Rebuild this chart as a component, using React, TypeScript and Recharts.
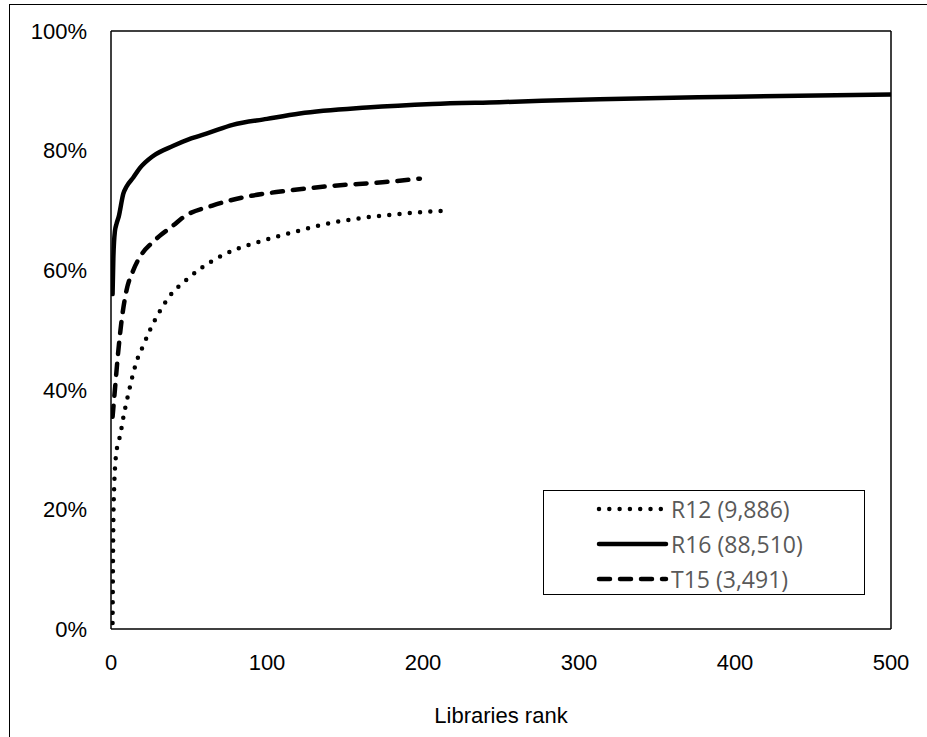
import React from 'react';
import { LineChart, Line, XAxis, YAxis, Legend, ReferenceLine } from 'recharts';

// Cumulative share of usage covered by the top-N libraries, per dataset
const r12Rank = [1, 1.5, 2, 3, 4, 6, 7, 8, 10, 12.6, 15, 17, 20, 25, 31, 38, 48, 57, 68, 80, 93, 106, 119, 132, 157, 185, 216];
const r12Share = [0.01, 0.18, 0.235, 0.285, 0.305, 0.325, 0.34, 0.355, 0.38, 0.41, 0.435, 0.452, 0.47, 0.5, 0.53, 0.558, 0.583, 0.602, 0.62, 0.635, 0.646, 0.656, 0.665, 0.674, 0.686, 0.694, 0.7];

const r16Rank = [1, 1.5, 2.5, 3.6, 5, 7.9, 10, 14.3, 18.6, 27, 40, 51, 63, 78, 100, 121, 164, 206, 249, 313, 400, 500];
const r16Share = [0.56, 0.62, 0.665, 0.678, 0.69, 0.728, 0.74, 0.755, 0.771, 0.791, 0.808, 0.82, 0.83, 0.843, 0.853, 0.862, 0.872, 0.878, 0.881, 0.886, 0.89, 0.894];

const t15Rank = [1, 2.5, 4.5, 7, 10, 14, 20, 26, 31, 40, 46, 65, 89, 110, 142, 174, 198];
const t15Share = [0.355, 0.4, 0.46, 0.52, 0.567, 0.598, 0.628, 0.645, 0.657, 0.675, 0.688, 0.708, 0.724, 0.732, 0.741, 0.747, 0.753];

const xTicks = [0, 100, 200, 300, 400, 500];
const yTicks = [0, 0.2, 0.4, 0.6, 0.8, 1];

const toPoints = (ranks: number[], shares: number[]) => ranks.map((x, i) => ({ x, y: shares[i] }));

const series = [
  { name: 'R12 (9,886)', data: toPoints(r12Rank, r12Share), dash: '0 10.3' },
  { name: 'R16 (88,510)', data: toPoints(r16Rank, r16Share), dash: undefined },
  { name: 'T15 (3,491)', data: toPoints(t15Rank, t15Share), dash: '11 10' },
];

const axisFont = { fontFamily: '"Liberation Sans", Arial, sans-serif', fontSize: 22, fill: '#000' };
const border = { stroke: '#000', strokeWidth: 1.5 };

// Boxed legend like the Excel original: line sample on the left, grey label on the right
const LegendBox = () => (
  <div style={{ width: 322, height: 105, border: '1.5px solid #000', background: '#fff', boxSizing: 'border-box', paddingTop: 0 }}>
    {series.map(s => (
      <div key={s.name} style={{ display: 'flex', alignItems: 'center', height: 35, marginLeft: 52 }}>
        <svg width={74} height={10}>
          <line x1={3} y1={5} x2={70} y2={5} stroke="#000" strokeWidth={4.5} strokeLinecap="round" strokeDasharray={s.dash} />
        </svg>
        <span style={{ fontFamily: '"Open Sans", sans-serif', fontSize: 23, color: '#595959', marginLeft: 1 }}>{s.name}</span>
      </div>
    ))}
  </div>
);

const App: React.FC = () => {
  return (
    <div style={{ position: 'absolute', left: 0, top: 0, width: 927, height: 737, overflow: 'hidden', background: '#fff' }}>
      <div style={{ position: 'absolute', left: 9, top: 4, width: 1000, height: 1000, border: '1.5px solid #000' }} />
      <div style={{ position: 'absolute', left: 0, top: 0 }}>
        <LineChart width={927} height={737} margin={{ top: 31, right: 36, left: 0, bottom: 0 }}>
          <XAxis
            type="number"
            dataKey="x"
            domain={[0, 500]}
            ticks={xTicks}
            tickLine={false}
            tickSize={0}
            tickMargin={25}
            height={108}
            axisLine={border}
            tick={axisFont}
            label={{ value: 'Libraries rank', position: 'insideBottom', offset: 14, style: axisFont }}
            allowDataOverflow
          />
          <YAxis
            type="number"
            dataKey="y"
            domain={[0, 1]}
            ticks={yTicks}
            tickFormatter={v => `${Math.round(v * 100)}%`}
            tickLine={false}
            tickSize={0}
            tickMargin={24}
            width={111}
            axisLine={border}
            tick={axisFont}
          />
          {/* top and right plot borders */}
          <ReferenceLine y={1} {...border} />
          <ReferenceLine x={500} {...border} />
          <Legend
            layout="vertical"
            align="center"
            verticalAlign="middle"
            content={() => <LegendBox />}
            wrapperStyle={{ left: 543, top: 490, width: 322, height: 105 }}
          />
          {series.map(s => (
            <Line
              key={s.name}
              data={s.data}
              dataKey="y"
              name={s.name}
              type="monotone"
              stroke="#000"
              strokeWidth={4.5}
              strokeLinecap="round"
              strokeDasharray={s.dash}
              dot={false}
              activeDot={false}
              isAnimationActive={false}
            />
          ))}
        </LineChart>
      </div>
    </div>
  );
};

export default App;
